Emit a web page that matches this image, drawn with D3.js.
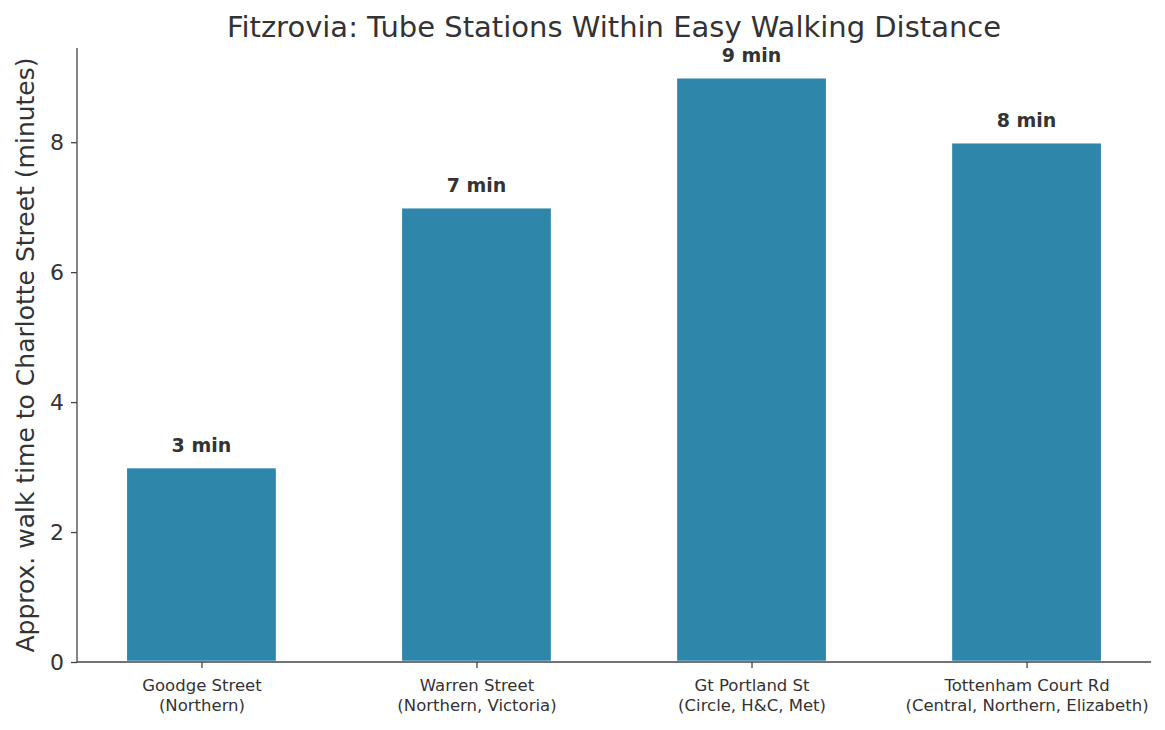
<!DOCTYPE html>
<html><head><meta charset="utf-8">
<script src="https://cdn.jsdelivr.net/npm/d3@7"></script>
<style>body{margin:0;background:#fff}svg{display:block}text{font-family:"DejaVu Sans",sans-serif;fill:#333}</style>
</head><body>
<svg id="c" width="1165" height="730"></svg>
<script>
const stations = ["Goodge Street", "Warren Street", "Gt Portland St", "Tottenham Court Rd"];
const lines = ["(Northern)", "(Northern, Victoria)", "(Circle, H&C, Met)", "(Central, Northern, Elizabeth)"];
const minutes = [3, 7, 9, 8];
const yTicks = [0, 2, 4, 6, 8];

const W = 1165, H = 730;
const m = {l: 77, r: 1151, t: 48, b: 662};
const barW = 0.55;
const svg = d3.select("#c");
const n = stations.length;
const span = (n - 1) + barW;
const x = d3.scaleLinear().domain([-barW/2 - 0.05*span, (n-1) + barW/2 + 0.05*span]).range([m.l, m.r]);
const y = d3.scaleLinear().domain([0, d3.max(minutes)*1.05]).range([m.b, m.t]);

svg.selectAll("rect.bar").data(minutes).join("rect").attr("class","bar")
  .attr("x", (d,i) => x(i - barW/2)).attr("width", (d,i) => x(i + barW/2) - x(i - barW/2))
  .attr("y", d => y(d)).attr("height", d => y(0) - y(d)).attr("fill", "#2E86AB")
  .attr("stroke", "#fff").attr("stroke-width", 2.5);

svg.selectAll("text.val").data(minutes).join("text").attr("class","val")
  .attr("x", (d,i) => x(i)).attr("y", d => y(d + 0.25) + 1)
  .attr("text-anchor","middle").attr("font-weight","bold").attr("font-size", 19)
  .text(d => d + " min");

const axC = "#444";
// y axis
const ya = svg.append("g").attr("transform", `translate(${m.l},0)`)
  .call(d3.axisLeft(y).tickValues(yTicks).tickSize(6).tickPadding(7).tickFormat(d3.format("d")));
ya.select(".domain").attr("stroke", axC).attr("stroke-width", 1.3).attr("d", `M0,${m.t}V${m.b}`);
ya.selectAll(".tick line").attr("stroke", axC).attr("stroke-width", 1.3);
ya.selectAll(".tick text").attr("font-size", 22).attr("fill", "#333").attr("font-family", "DejaVu Sans");

// x axis
const xa = svg.append("g").attr("transform", `translate(0,${m.b})`)
  .call(d3.axisBottom(x).tickValues(d3.range(n)).tickSize(6).tickFormat(""));
xa.select(".domain").attr("stroke", axC).attr("stroke-width", 1.3).attr("d", `M${m.l},0H${m.r}`);
xa.selectAll(".tick line").attr("stroke", axC).attr("stroke-width", 1.3);
xa.selectAll(".tick").each(function(d){
  const t = d3.select(this).append("text").attr("text-anchor","middle").attr("font-size", 16.5)
    .attr("fill","#333").attr("font-family","DejaVu Sans");
  t.append("tspan").attr("x",0).attr("y",29).text(stations[d]);
  t.append("tspan").attr("x",0).attr("y",49).text(lines[d]);
});

svg.append("text").attr("x", (m.l+m.r)/2).attr("y", 37).attr("text-anchor","middle")
  .attr("font-size", 29).text("Fitzrovia: Tube Stations Within Easy Walking Distance");

svg.append("text").attr("transform", `translate(34,${(m.t+m.b)/2}) rotate(-90)`)
  .attr("text-anchor","middle").attr("font-size", 25)
  .text("Approx. walk time to Charlotte Street (minutes)");
</script>
</body></html>
